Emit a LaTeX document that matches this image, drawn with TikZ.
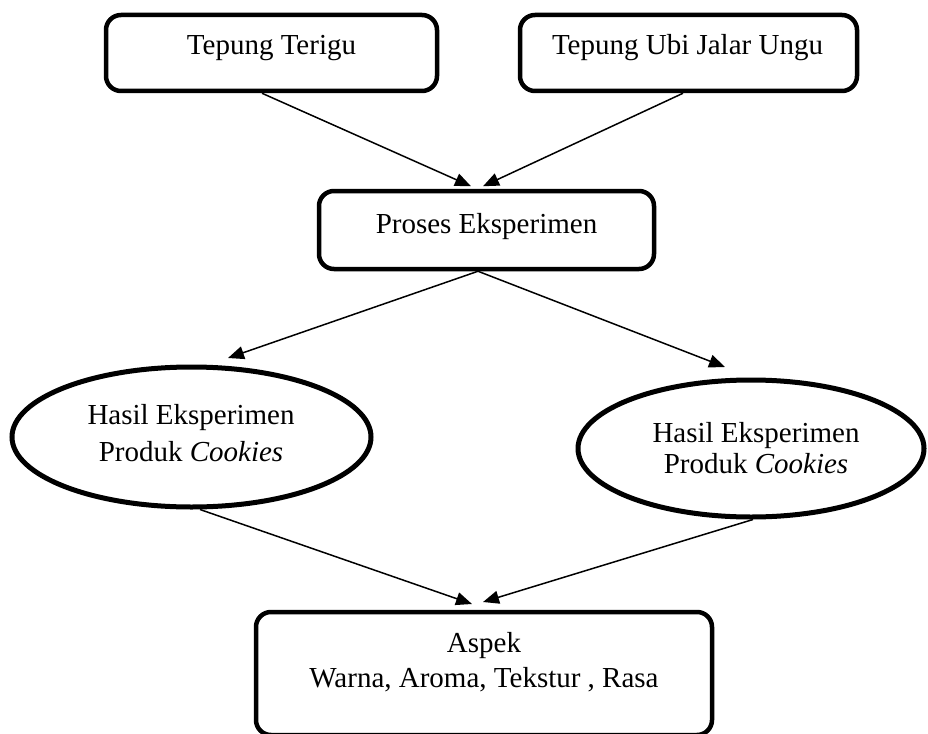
\documentclass[tikz,border=0pt]{standalone}
\usepackage{fontspec}
\setmainfont{Liberation Serif}
\usetikzlibrary{arrows.meta,shapes.geometric}
\begin{document}
\begin{tikzpicture}[x=1pt,y=-1pt,
  box/.style={draw, line width=4.5pt, rounded corners=15pt, inner sep=0pt},
  oval/.style={draw, ellipse, line width=5pt, inner sep=0pt},
  lbl/.style={anchor=base, inner sep=0pt, font=\fontsize{29}{35}\selectfont},
  conn/.style={line width=1.5pt, -{Triangle[length=16pt,width=13pt]}}]
\useasboundingbox (0,0) rectangle (928,733);
% shapes
\node[box, minimum width=331pt, minimum height=76pt] (b1) at (271.5,53) {};
\node[box, minimum width=337pt, minimum height=76pt] (b2) at (688.5,53) {};
\node[box, minimum width=335pt, minimum height=78pt] (p) at (486.5,230) {};
\node[oval, minimum width=359pt, minimum height=140pt] (e1) at (191.5,437) {};
\node[oval, minimum width=346pt, minimum height=137pt] (e2) at (751,448.5) {};
\node[box, minimum width=456pt, minimum height=123pt] (as) at (484,673.5) {};
% texts
\node[lbl] (t1) at (271.5,55) {Tepung Terigu};
\node[lbl] (t2) at (687.5,55) {Tepung Ubi Jalar Ungu};
\node[lbl] (t3) at (486.5,233) {Proses Eksperimen};
\node[lbl] (t4) at (191,424) {Hasil Eksperimen};
\node[lbl] (t5) at (191,461) {Produk \textit{Cookies}};
\node[lbl] (t6) at (756,442) {Hasil Eksperimen};
\node[lbl] (t7) at (756,473) {Produk \textit{Cookies}};
\node[lbl] (t8) at (484,652) {Aspek};
\node[lbl] (t9) at (484,687) {Warna, Aroma, Tekstur , Rasa};
% connectors
\draw[conn] ([xshift=-9.5pt]b1.south) -- ([xshift=-15.5pt,yshift=2.5pt]p.north);
\draw[conn] ([xshift=-5.5pt]b2.south) -- ([xshift=-3.5pt,yshift=2.5pt]p.north);
\draw[conn] ([xshift=-8.5pt]p.south) -- ([xshift=36.5pt,yshift=6.5pt]e1.north);
\draw[conn] ([xshift=-8.5pt]p.south) -- ([xshift=-26pt,yshift=10.5pt]e2.north);
\draw[conn] ([xshift=8.5pt]e1.south) -- ([xshift=-12pt,yshift=5.75pt]as.north);
\draw[conn] ([xshift=2pt]e2.south) -- ([xshift=-1pt,yshift=7.75pt]as.north);
\end{tikzpicture}
\end{document}
